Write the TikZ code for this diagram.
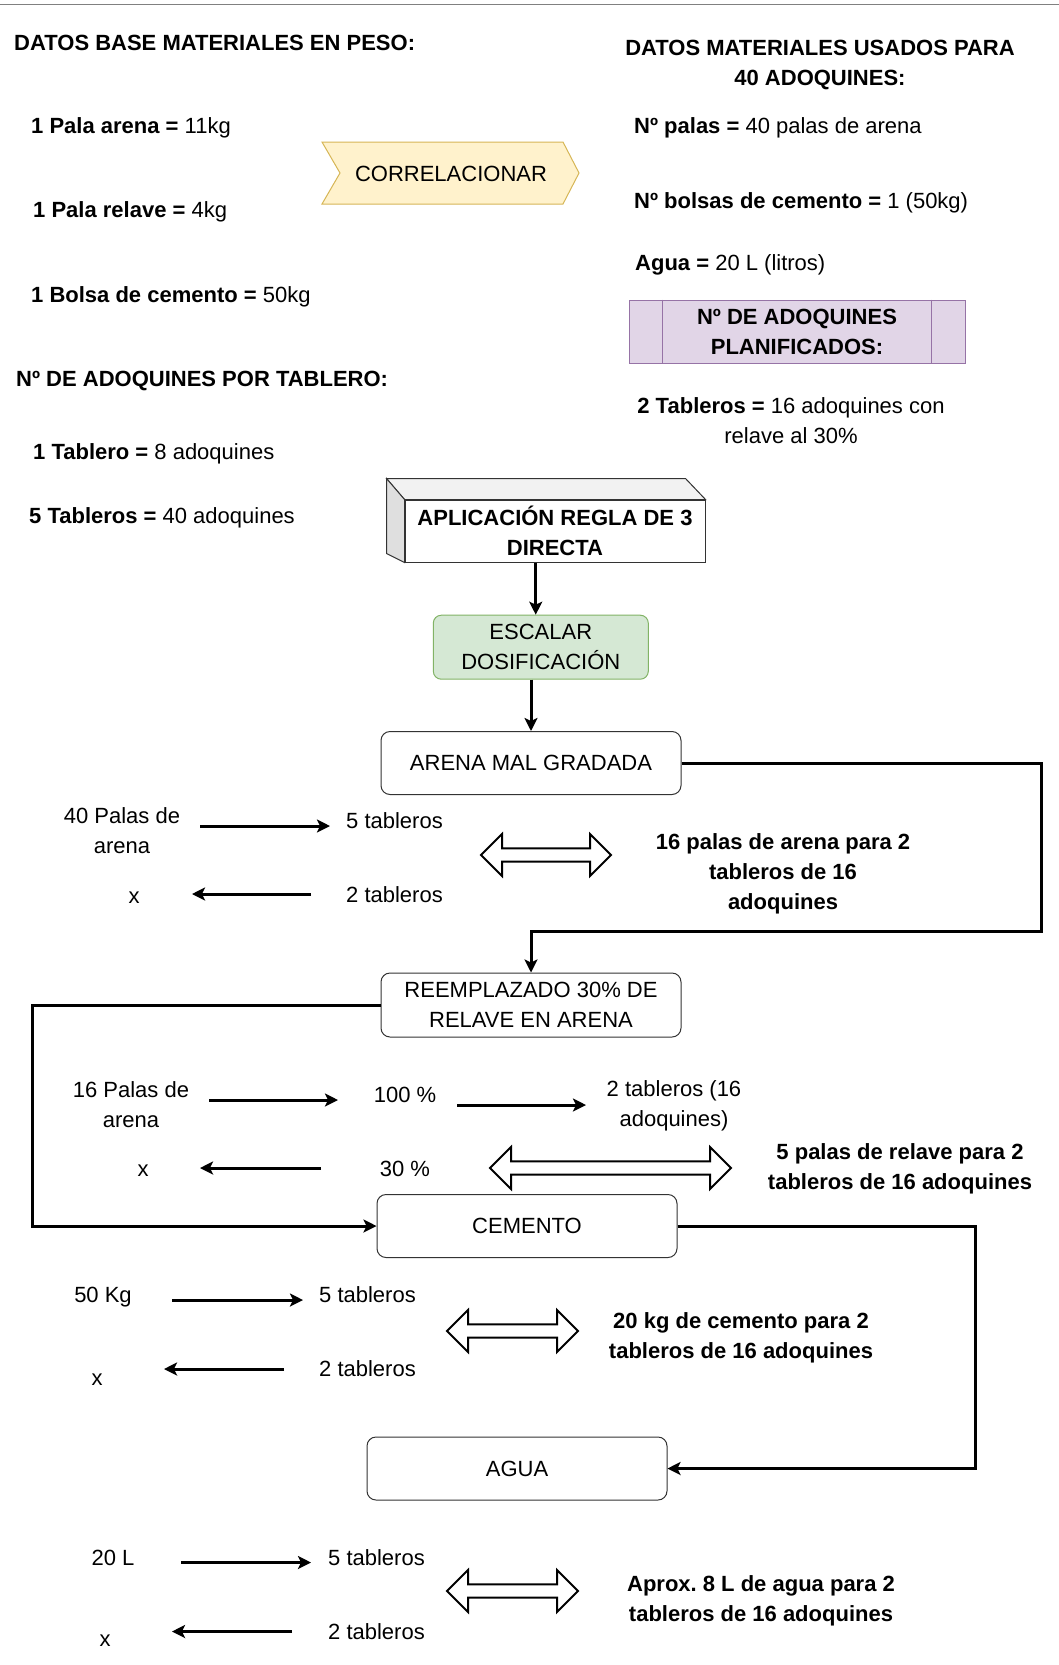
\documentclass[tikz,border=0pt]{standalone}
\usepackage{fontspec}
\setmainfont{Liberation Sans}
\usetikzlibrary{arrows.meta,calc}
\definecolor{yfill}{HTML}{FFF2CC}
\definecolor{ystroke}{HTML}{D6B656}
\definecolor{gfill}{HTML}{D5E8D4}
\definecolor{gstroke}{HTML}{82B366}
\definecolor{pfill}{HTML}{E1D5E7}
\definecolor{pstroke}{HTML}{9673A6}
\newcommand\hollowdbl[3]{%
  \draw[dblshape] (#1,#3) -- ({#1+21},{#3-21}) -- ({#1+21},{#3-6.7}) -- ({#2-21},{#3-6.7}) -- ({#2-21},{#3-21}) -- (#2,#3) -- ({#2-21},{#3+21}) -- ({#2-21},{#3+6.7}) -- ({#1+21},{#3+6.7}) -- ({#1+21},{#3+21}) -- cycle;}
\frenchspacing
\begin{document}
\begin{tikzpicture}[x=1pt,y=-1pt,
  fnt/.style={font=\fontsize{22}{30}\selectfont\frenchspacing},
  fntb/.style={font=\fontsize{22}{30}\selectfont\bfseries\frenchspacing},
  t/.style={fnt, inner sep=0pt, text height=22pt, text depth=4.5pt},
  tb/.style={fntb, inner sep=0pt, text height=22pt, text depth=4.5pt},
  tm/.style={fnt, inner sep=0pt, align=center},
  tmb/.style={fntb, inner sep=0pt, align=center},
  box/.style={draw=black!80, line width=1pt, rounded corners=9pt, minimum width=300pt, minimum height=63pt, fnt, align=center, inner sep=0pt},
  arr/.style={line width=3pt, -{Stealth[length=13pt,width=13pt,inset=3pt]}},
  conn/.style={line width=3pt, -{Stealth[length=13pt,width=13pt,inset=3pt]}},
  dblshape/.style={line width=2pt, fill=white, draw=black, line join=miter}
]
\useasboundingbox (0,0) rectangle (1059,1665);
\draw[gray, line width=1.5pt] (0,4.5) -- (1059,4.5);

% ---- header texts ----
\node[tb, anchor=west] (h1) at (14,42) {DATOS BASE MATERIALES EN PESO:};
\node[tmb] (h2) at (820,65) {DATOS MATERIALES USADOS PARA\\40 ADOQUINES:};
\node[t, anchor=west] (l1) at (31,125) {\textbf{1 Pala arena =} 11kg};
\node[t, anchor=west] (l2) at (33,209) {\textbf{1 Pala relave =} 4kg};
\node[t, anchor=west] (l3) at (31,294) {\textbf{1 Bolsa de cemento =} 50kg};
\node[tb, anchor=west] (h3) at (16,378) {Nº DE ADOQUINES POR TABLERO:};
\node[t, anchor=west] (l4) at (33,451) {\textbf{1 Tablero =} 8 adoquines};
\node[t, anchor=west] (l5) at (29,515) {\textbf{5 Tableros =} 40 adoquines};

\node[t, anchor=west] (r1) at (634,125) {\textbf{Nº palas =} 40 palas de arena};
\node[t, anchor=west] (r2) at (634,200) {\textbf{Nº bolsas de cemento =} 1 (50kg)};
\node[t, anchor=west] (r3) at (635,262) {\textbf{Agua =} 20 L (litros)};
\node[tm] (r4) at (791,421) {\textbf{2 Tableros =} 16 adoquines con\\relave al 30\%};

% ---- correlacionar step ----
\draw[draw=ystroke, fill=yfill, line width=1pt] (322,142) -- (563,142) -- (579,173) -- (563,204) -- (322,204) -- (340,173) -- cycle;
\node[t] (corr) at (451,173) {CORRELACIONAR};

% ---- planificados ----
\node[draw=pstroke, fill=pfill, line width=1pt, minimum width=336pt, minimum height=63pt, tmb] (plan) at (797,331.5) {Nº DE ADOQUINES\\PLANIFICADOS:};
\draw[pstroke, line width=1pt] ($(plan.north west)+(34,0)$) -- ($(plan.south west)+(34,0)$);
\draw[pstroke, line width=1pt] ($(plan.north east)+(-34,0)$) -- ($(plan.south east)+(-34,0)$);

% ---- 3D box ----
\node[draw=black!80, fill=white, line width=1pt, minimum width=300pt, minimum height=62pt, tmb] (apl) at (555,531) {APLICACIÓN REGLA DE 3\\DIRECTA};
\draw[draw=black!80, fill=gray!10, line width=1pt] (apl.north west) -- ++(-18,-21) -- ($(apl.north east)+(-20,-21)$) -- (apl.north east) -- cycle;
\draw[draw=black!80, fill=gray!25, line width=1pt] (apl.north west) -- ++(-18,-21) -- ($(apl.south west)+(-18,-9)$) -- (apl.south west) -- cycle;

% ---- escalar ----
\node[draw=gstroke, fill=gfill, line width=1pt, rounded corners=8pt, minimum width=215pt, minimum height=64pt, tm] (esc) at (540.8,647.2) {ESCALAR\\DOSIFICACIÓN};

% ---- process boxes ----
\node[box] (arena) at (531,763) {ARENA MAL GRADADA};
\node[box, minimum height=64pt] (reemp) at (531,1005) {REEMPLAZADO 30\% DE\\RELAVE EN ARENA};
\node[box] (cem) at (527,1226) {CEMENTO};
\node[box] (agua) at (517,1468.5) {AGUA};

% ---- flow connectors ----
\coordinate (aplout) at ($(apl.south west)!0.436!(apl.south east)$);
\draw[conn] (aplout) -- (aplout |- esc.north);
\draw[conn] (arena.north |- esc.south) -- (arena.north);
\coordinate (k1) at (1041,931.5);
\draw[conn] (arena.east) -| (k1) -| (reemp.north);
\coordinate (k2) at (32,1226);
\draw[conn] (reemp.west) -| (k2) -- (cem.west);
\coordinate (k3) at (975,1468.5);
\draw[conn] (cem.east) -| (k3) -- (agua.east);

% ---- block arena ----
\node[tm] (a1) at (122,831) {40 Palas de\\arena};
\node[t, anchor=west] (a2) at (346,820) {5 tableros};
\node[t] (a3) at (134,895) {x};
\node[t, anchor=west] (a4) at (346,894) {2 tableros};
\coordinate (a1s) at (200,826); \coordinate (a1e) at (330,826);
\draw[arr] (a1s) -- (a1e);
\coordinate (a2s) at (311,894); \coordinate (a2e) at (192,894);
\draw[arr] (a2s) -- (a2e);
\hollowdbl{481}{611}{855}
\node[tmb] (a5) at (783,874) {16 palas de arena para 2\\tableros de 16\\adoquines};

% ---- block relave ----
\node[tm] (b1) at (131,1105) {16 Palas de\\arena};
\node[t] (b2) at (405,1094) {100 \%};
\node[tm] (b3) at (674,1106) {2 tableros (16\\adoquines)};
\node[t] (b4) at (143,1168) {x};
\node[t] (b5) at (405,1168) {30 \%};
\coordinate (b1s) at (209,1100); \coordinate (b1e) at (338,1100);
\draw[arr] (b1s) -- (b1e);
\coordinate (b2s) at (457,1105); \coordinate (b2e) at (586,1105);
\draw[arr] (b2s) -- (b2e);
\coordinate (b3s) at (321,1168); \coordinate (b3e) at (200,1168);
\draw[arr] (b3s) -- (b3e);
\hollowdbl{490}{731}{1168}
\node[tmb] (b6) at (900,1169) {5 palas de relave para 2\\tableros de 16 adoquines};

% ---- block cemento ----
\node[t] (c1) at (103,1294) {50 Kg};
\node[t, anchor=west] (c2) at (319,1294) {5 tableros};
\node[t] (c3) at (97,1377) {x};
\node[t, anchor=west] (c4) at (319,1368) {2 tableros};
\coordinate (c1s) at (172,1300); \coordinate (c1e) at (303,1300);
\draw[arr] (c1s) -- (c1e);
\coordinate (c2s) at (284,1369); \coordinate (c2e) at (164,1369);
\draw[arr] (c2s) -- (c2e);
\hollowdbl{447}{578}{1331}
\node[tmb] (c5) at (741,1338) {20 kg de cemento para 2\\tableros de 16 adoquines};

% ---- block agua ----
\node[t] (d1) at (113,1557) {20 L};
\node[t, anchor=west] (d2) at (328,1557) {5 tableros};
\node[t] (d3) at (105,1638) {x};
\node[t, anchor=west] (d4) at (328,1630.5) {2 tableros};
\coordinate (d1s) at (181,1562.5); \coordinate (d1e) at (311,1562.5);
\draw[arr] (d1s) -- (d1e);
\coordinate (d2s) at (292,1631.5); \coordinate (d2e) at (172,1631.5);
\draw[arr] (d2s) -- (d2e);
\hollowdbl{447}{578}{1591}
\node[tmb] (d5) at (761,1601) {Aprox. 8 L de agua para 2\\tableros de 16 adoquines};
\end{tikzpicture}
\end{document}
